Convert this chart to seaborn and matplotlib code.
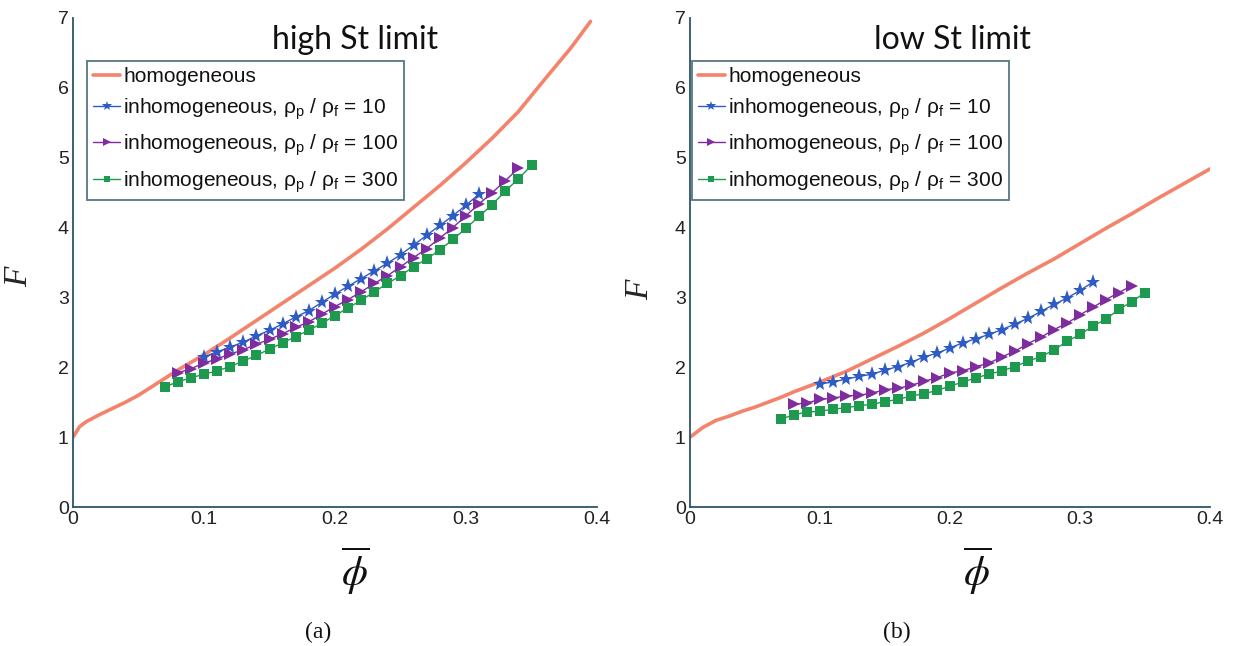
import numpy as np
import pandas as pd
import matplotlib
matplotlib.use("Agg")
import matplotlib.pyplot as plt
import seaborn as sns

# ---------------- data ----------------
# (a) high St limit
hom_a_x = [0.0, 0.005, 0.01, 0.02, 0.03, 0.04, 0.05, 0.06, 0.07, 0.08, 0.09, 0.10,
           0.12, 0.14, 0.16, 0.18, 0.20, 0.22, 0.24, 0.26, 0.28, 0.30, 0.32, 0.34,
           0.36, 0.38, 0.395]
hom_a_y = [1.00, 1.15, 1.22, 1.32, 1.41, 1.50, 1.60, 1.72, 1.84, 1.96, 2.07, 2.18,
           2.42, 2.67, 2.92, 3.17, 3.42, 3.69, 3.98, 4.29, 4.60, 4.93, 5.28, 5.66,
           6.12, 6.57, 6.95]

phi10_a = [0.10, 0.11, 0.12, 0.13, 0.14, 0.15, 0.16, 0.17, 0.18, 0.19, 0.20, 0.21,
           0.22, 0.23, 0.24, 0.25, 0.26, 0.27, 0.28, 0.29, 0.30, 0.31]
F10_a = [2.15, 2.22, 2.29, 2.36, 2.45, 2.53, 2.62, 2.72, 2.81, 2.93, 3.05, 3.16,
         3.27, 3.38, 3.49, 3.61, 3.75, 3.89, 4.03, 4.17, 4.32, 4.48]

phi100_a = [0.08, 0.09, 0.10, 0.11, 0.12, 0.13, 0.14, 0.15, 0.16, 0.17, 0.18, 0.19,
            0.20, 0.21, 0.22, 0.23, 0.24, 0.25, 0.26, 0.27, 0.28, 0.29, 0.30, 0.31,
            0.32, 0.33, 0.34]
F100_a = [1.92, 1.98, 2.06, 2.12, 2.19, 2.25, 2.33, 2.40, 2.48, 2.57, 2.65, 2.76,
          2.87, 2.97, 3.08, 3.20, 3.31, 3.44, 3.57, 3.70, 3.85, 4.00, 4.17, 4.34,
          4.50, 4.67, 4.85]

phi300_a = [0.07, 0.08, 0.09, 0.10, 0.11, 0.12, 0.13, 0.14, 0.15, 0.16, 0.17, 0.18,
            0.19, 0.20, 0.21, 0.22, 0.23, 0.24, 0.25, 0.26, 0.27, 0.28, 0.29, 0.30,
            0.31, 0.32, 0.33, 0.34, 0.35]
F300_a = [1.72, 1.79, 1.85, 1.90, 1.95, 2.01, 2.09, 2.17, 2.26, 2.35, 2.44, 2.53,
          2.63, 2.74, 2.85, 2.96, 3.08, 3.20, 3.31, 3.44, 3.55, 3.68, 3.83, 3.99,
          4.16, 4.33, 4.52, 4.70, 4.89]

# (b) low St limit
hom_b_x = [0.0, 0.01, 0.02, 0.03, 0.04, 0.05, 0.06, 0.07, 0.08, 0.09, 0.10, 0.12,
           0.14, 0.16, 0.18, 0.20, 0.22, 0.24, 0.26, 0.28, 0.30, 0.32, 0.34, 0.36,
           0.38, 0.40]
hom_b_y = [1.00, 1.14, 1.24, 1.30, 1.37, 1.43, 1.50, 1.57, 1.65, 1.72, 1.79, 1.94,
           2.12, 2.30, 2.49, 2.70, 2.92, 3.14, 3.35, 3.55, 3.77, 3.99, 4.20, 4.42,
           4.63, 4.84]

phi10_b = phi10_a
F10_b = [1.76, 1.79, 1.83, 1.87, 1.90, 1.96, 2.01, 2.07, 2.15, 2.20, 2.28, 2.35,
         2.41, 2.47, 2.54, 2.62, 2.70, 2.80, 2.90, 2.99, 3.10, 3.22]

phi100_b = phi100_a
F100_b = [1.47, 1.49, 1.54, 1.56, 1.59, 1.60, 1.63, 1.68, 1.70, 1.74, 1.80, 1.85,
          1.92, 1.95, 2.01, 2.06, 2.15, 2.23, 2.34, 2.43, 2.54, 2.63, 2.75, 2.86,
          2.97, 3.07, 3.17]

phi300_b = phi300_a
F300_b = [1.26, 1.32, 1.36, 1.37, 1.40, 1.42, 1.45, 1.47, 1.51, 1.54, 1.59, 1.62,
          1.67, 1.73, 1.79, 1.85, 1.90, 1.95, 2.01, 2.09, 2.15, 2.25, 2.37, 2.47,
          2.59, 2.69, 2.83, 2.94, 3.07]

x_ticks = [0, 0.1, 0.2, 0.3, 0.4]
x_ticklabels = ["0", "0.1", "0.2", "0.3", "0.4"]
y_ticks = [0, 1, 2, 3, 4, 5, 6, 7]

labels = ["homogeneous",
          r"inhomogeneous, ρ$_\mathregular{p}$ / ρ$_\mathregular{f}$ = 10",
          r"inhomogeneous, ρ$_\mathregular{p}$ / ρ$_\mathregular{f}$ = 100",
          r"inhomogeneous, ρ$_\mathregular{p}$ / ρ$_\mathregular{f}$ = 300"]
titles = ["high St limit", "low St limit"]
captions = ["(a)", "(b)"]

# ---------------- style ----------------
sns.set_theme(style="white")
plt.rcParams["font.family"] = ["Liberation Sans", "DejaVu Sans"]

AXIS_C = "#2c5566"
RED = "#f4836c"
BLUE = "#2f5cc4"
PURPLE = "#7f2c9e"
GREEN = "#1e9a4e"

W, H = 1237, 646
fig = plt.figure(figsize=(W / 100, H / 100), dpi=100)
ax_a = fig.add_axes([73 / W, 1 - 507 / H, 524 / W, 489 / H])
ax_b = fig.add_axes([690 / W, 1 - 507 / H, 520 / W, 489 / H])


def frame(x, y):
    return pd.DataFrame({"phi": x, "F": y})


panels = [
    (ax_a, (hom_a_x, hom_a_y), (phi10_a, F10_a), (phi100_a, F100_a), (phi300_a, F300_a)),
    (ax_b, (hom_b_x, hom_b_y), (phi10_b, F10_b), (phi100_b, F100_b), (phi300_b, F300_b)),
]

title_x = [0.538, 0.505]
ylab_pos = [(-0.074, 0.47), (-0.067, 0.445)]
xlab_x = [0.538, 0.552]
caption_x = [318, 897]
legend_x = [0.027, 0.004]

for i, (ax, hom, s10, s100, s300) in enumerate(panels):
    sns.lineplot(data=frame(*hom), x="phi", y="F", ax=ax, color=RED, lw=2.6,
                 label=labels[0], sort=False)
    sns.lineplot(data=frame(*s10), x="phi", y="F", ax=ax, color=BLUE, lw=1.0,
                 marker="*", markersize=11, markeredgewidth=0, label=labels[1],
                 sort=False)
    sns.lineplot(data=frame(*s100), x="phi", y="F", ax=ax, color=PURPLE, lw=1.0,
                 marker=">", markersize=8.5, markeredgewidth=0, label=labels[2],
                 sort=False)
    sns.lineplot(data=frame(*s300), x="phi", y="F", ax=ax, color=GREEN, lw=1.0,
                 marker="s", markersize=7.5, markeredgewidth=0, label=labels[3],
                 sort=False)

    ax.set_xlim(0, 0.4)
    ax.set_ylim(0, 7)
    ax.set_xticks(x_ticks)
    ax.set_xticklabels(x_ticklabels)
    ax.set_yticks(y_ticks)
    sns.despine(ax=ax)
    for side in ("left", "bottom"):
        ax.spines[side].set_color(AXIS_C)
        ax.spines[side].set_linewidth(1.3)
    ax.tick_params(axis="both", direction="in", length=4, width=1.1,
                   color=AXIS_C, labelsize=14, labelcolor="#222222", pad=3)

    ax.set_xlabel("")
    ax.set_ylabel("F", fontsize=24, fontstyle="italic",
                  family="Liberation Serif", rotation=90)
    ax.yaxis.set_label_coords(*ylab_pos[i])

    ax.text(xlab_x[i], -0.075, r"$\overline{\phi}$", transform=ax.transAxes,
            ha="center", va="top", fontsize=30, math_fontfamily="stix",
            color="#111111")
    ax.text(title_x[i], 0.955, titles[i], transform=ax.transAxes, ha="center",
            va="center", fontsize=23, family="Lato", color="#111111")

    leg = ax.legend(loc="upper left", bbox_to_anchor=(legend_x[i], 0.912),
                    fontsize=15, frameon=True, fancybox=False, handlelength=1.3,
                    handletextpad=0.15, labelspacing=0.5, borderpad=0.28,
                    borderaxespad=0.0, markerscale=0.65)
    leg.get_frame().set_edgecolor(AXIS_C)
    leg.get_frame().set_linewidth(1.3)
    for t in leg.get_texts():
        t.set_color("#111111")

    fig.text(caption_x[i] / W, 1 - 632 / H, captions[i], ha="center", va="center",
             fontsize=17, family="Liberation Serif", color="#111111")

fig.savefig("out.png", dpi=100)
